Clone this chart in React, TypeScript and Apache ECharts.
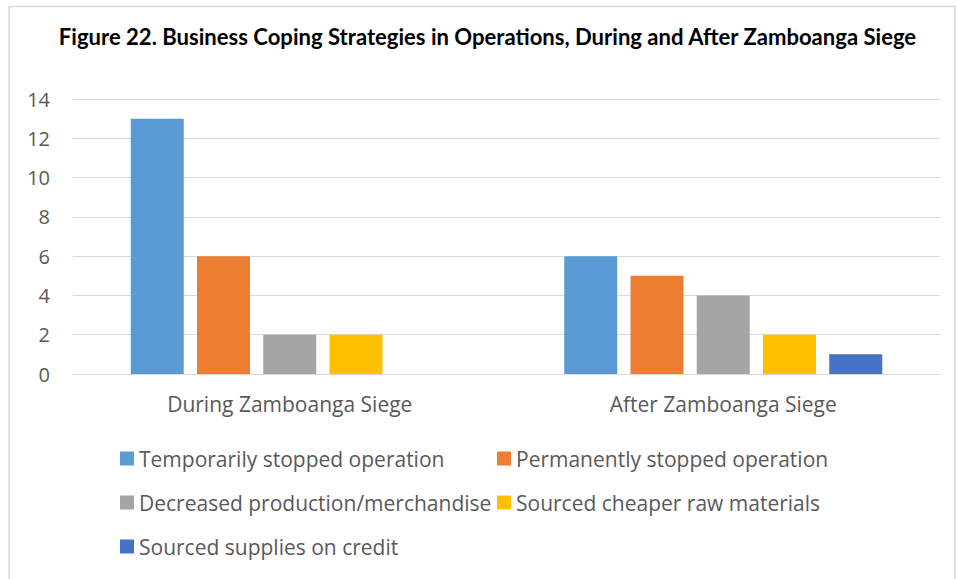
import React, { useEffect, useRef } from "react";
import * as echarts from "echarts";

const categories = ["During Zamboanga Siege", "After Zamboanga Siege"];
const seriesNames = [
  "Temporarily stopped operation",
  "Permanently stopped operation",
  "Decreased production/merchandise",
  "Sourced cheaper raw materials",
  "Sourced supplies on credit",
];
const temporarilyStopped = [13, 6];
const permanentlyStopped = [6, 5];
const decreasedProduction = [2, 4];
const cheaperRawMaterials = [2, 2];
const suppliesOnCredit = [null, 1];
const seriesValues = [
  temporarilyStopped,
  permanentlyStopped,
  decreasedProduction,
  cheaperRawMaterials,
  suppliesOnCredit,
];
const colors = ["#5B9BD5", "#ED7D31", "#A5A5A5", "#FFC000", "#4472C4"];
const yTicks = { min: 0, max: 14, interval: 2 };
const titleText =
  "Figure 22. Business Coping Strategies in Operations, During and After Zamboanga Siege";

const FONT = "'Open Sans', sans-serif";
const legendPos = [
  { left: 120, top: 448 },
  { left: 497, top: 448 },
  { left: 120, top: 492 },
  { left: 497, top: 492 },
  { left: 120, top: 536 },
];

export default function App() {
  const ref = useRef<HTMLDivElement>(null);
  useEffect(() => {
    if (!ref.current) return;
    const chart = echarts.init(ref.current, null, { renderer: "svg" });
    chart.setOption({
      animation: false,
      backgroundColor: "#ffffff",
      graphic: [
        {
          type: "rect",
          shape: { x: 9, y: 6.5, width: 946, height: 600 },
          style: { fill: "none", stroke: "#D9D9D9", lineWidth: 1.5 },
          silent: true,
        },
        {
          type: "group",
          x: 487.5,
          y: 36,
          scaleX: 0.96,
          children: [
            {
              type: "text",
              x: 0,
              y: 0,
              style: {
                text: titleText,
                font: "bold 23px Lato, sans-serif",
                fill: "#000000",
                textAlign: "center",
                textVerticalAlign: "middle",
              },
            },
          ],
        },
      ],
      legend: seriesNames.map((name, i) => ({
        data: [name],
        left: legendPos[i].left,
        top: legendPos[i].top,
        orient: "horizontal",
        itemWidth: 14,
        itemHeight: 14,
        padding: 0,
        icon: "rect",
        selectedMode: false,
        textStyle: { color: "#595959", fontSize: 21, fontFamily: FONT },
      })),
      grid: { left: 73, right: 18, top: 99, bottom: 205, containLabel: false },
      xAxis: {
        type: "category",
        data: categories,
        axisLine: { lineStyle: { color: "#D9D9D9", width: 1 } },
        axisTick: { show: false },
        axisLabel: { color: "#595959", fontSize: 21, fontFamily: FONT, margin: 19 },
      },
      yAxis: {
        type: "value",
        min: yTicks.min,
        max: yTicks.max,
        interval: yTicks.interval,
        axisLine: { show: false },
        axisTick: { show: false },
        splitLine: { lineStyle: { color: "#D9D9D9", width: 1 } },
        axisLabel: { color: "#595959", fontSize: 20, fontFamily: FONT, margin: 23 },
      },
      series: seriesNames.map((name, i) => ({
        name,
        type: "bar",
        data: seriesValues[i],
        barWidth: 53,
        barGap: "25%",
        itemStyle: { color: colors[i] },
      })),
    });
    return () => chart.dispose();
  }, []);
  return (
    <div
      ref={ref}
      style={{ position: "fixed", left: 0, top: 0, width: 958, height: 579 }}
    />
  );
}
